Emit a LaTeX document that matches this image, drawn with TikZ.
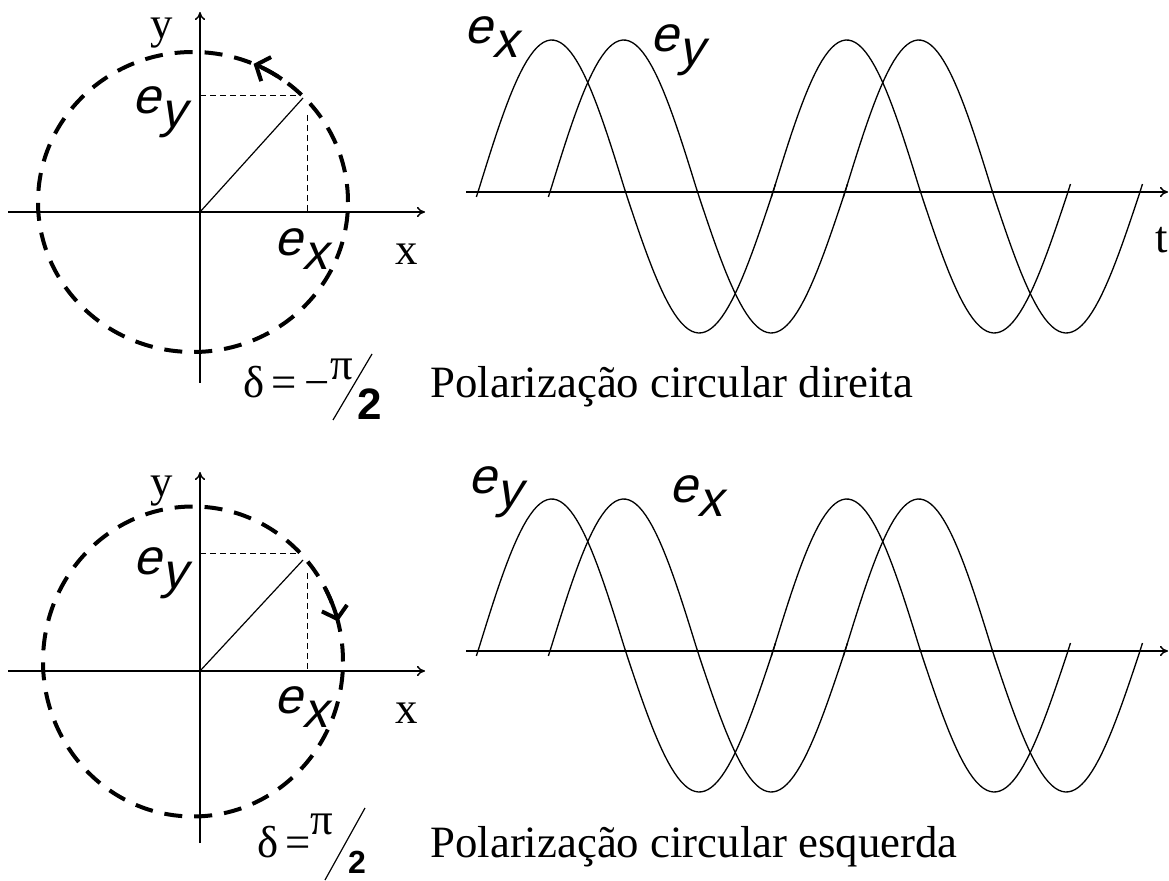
\documentclass[tikz,border=0pt]{standalone}
\usepackage{fontspec}
\setmainfont{Liberation Serif}
\setsansfont{Liberation Sans}
\newfontfamily\compfont{Liberation Sans}[FakeSlant=0.25]
\usetikzlibrary{arrows.meta}
\usetikzlibrary{calc}
\newcommand{\comp}[1]{{\compfont e\raisebox{-0.27em}{#1}}}
\newcommand{\drawaxis}{\draw[-{To[length=4pt,width=5pt]}, line width=0.75pt]}

\begin{document}
\begin{tikzpicture}[x=0.5pt, y=0.5pt,
    lbl/.style={font=\fontsize{22.4}{26}\selectfont, inner sep=0pt},
    comp/.style={font=\fontsize{25}{30}\selectfont, inner sep=0pt},
    two/.style={font=\fontsize{22}{26}\selectfont\sffamily\bfseries, inner sep=0pt},
    orbit/.style={line width=2pt, dash pattern=on 9pt off 6pt},
    turn/.style={line width=2pt, -{Straight Barb[length=5.5pt,width=13pt]}},
    proj/.style={line width=0.5pt, dash pattern=on 3pt off 2pt},
    wave/.style={line width=0.65pt}]
    \useasboundingbox (0,0) rectangle (1169,880);
    \def\per{295}

    % Top: right circular
    \coordinate (o1) at (200,668);
    \coordinate (c1) at (193,678);
    \coordinate (v1) at (303,782);
    \drawaxis (8,668) -- (425,668);
    \drawaxis (200,497) -- (200,868);
    \draw[orbit] (c1) ellipse [x radius=155, y radius=150];
    \draw[turn] (c1) ++(55:155 and 150) arc[start angle=55, end angle=67, x radius=155, y radius=150];
    \draw[line width=0.6pt] (o1) -- (v1);
    \draw[proj] (o1 |- 0,784) -- (297,784);
    \draw[proj] (307,765) -- (307,668);
    \node[lbl] (y1) at (162,847) {y};
    \node[lbl] (x1) at (407,626) {x};
    \node[comp] (ey1) at (159,768) {\comp{y}};
    \node[comp] (ex1) at (301,631) {\comp{x}};

    % Bottom: left circular
    \coordinate (o2) at (200,209);
    \coordinate (c2) at (193,218.5);
    \coordinate (v2) at (303,320);
    \drawaxis (8,209) -- (425,209);
    \drawaxis (200,37) -- (200,408);
    \draw[orbit] (c2) ellipse [x radius=150, y radius=155];
    \draw[turn] (c2) ++(28:150 and 155) arc[start angle=28, end angle=15, x radius=150, y radius=155];
    \draw[line width=0.6pt] (o2) -- (v2);
    \draw[proj] (o2 |- 0,326) -- (297,326);
    \draw[proj] (307,307) -- (307,209);
    \node[lbl] (y2) at (162,389) {y};
    \node[lbl] (x2) at (407,167) {x};
    \node[comp] (ey2) at (160,307) {\comp{y}};
    \node[comp] (ex2) at (301,173) {\comp{x}};

    % Phase labels
    \node[lbl, anchor=base west] (d1) at (243,482) {δ\,=\,−};
    \node[lbl, anchor=base] (pi1) at (342,500) {π};
    \draw[line width=0.6pt] (333,460) -- (372,526);
    \node[two] (two1) at (370,476) {2};
    \node[lbl, anchor=base west] (pol1) at (430,482) {Polarização circular direita};

    \node[lbl, anchor=base west] (d2) at (257,23) {δ\,=};
    \node[lbl, anchor=base] (pi2) at (322,46) {π};
    \draw[line width=0.6pt] (325,0) -- (365,72);
    \node[two, font=\fontsize{16}{18}\selectfont\sffamily\bfseries, anchor=south] (two2) at (357,6) {2};
    \node[lbl, anchor=base west] (pol2) at (430,23) {Polarização circular esquerda};

    % Draw time axes and waves
    \foreach \ax in {688,229} {
        \drawaxis (466,\ax) -- (1168,\ax);
        \foreach \xo in {478,550} {
            \foreach \k in {0,1} {
                \draw[wave] plot[domain=-2:363, samples=90, variable=\t]
                    ({\xo+\per*(\k+\t/360)}, {\ax+146.5*sin(\t)+5.5*abs(sin(\t))});
            }
        }
    }
    \node[lbl] (t1) at (1162,640) {t};
    \node[comp] (ex3) at (491,843) {\comp{x}};
    \node[comp] (ey3) at (677,830) {\comp{y}};
    \node[comp] (ey4) at (495,388) {\comp{y}};
    \node[comp] (ex4) at (696,384) {\comp{x}};
\end{tikzpicture}
\end{document}
